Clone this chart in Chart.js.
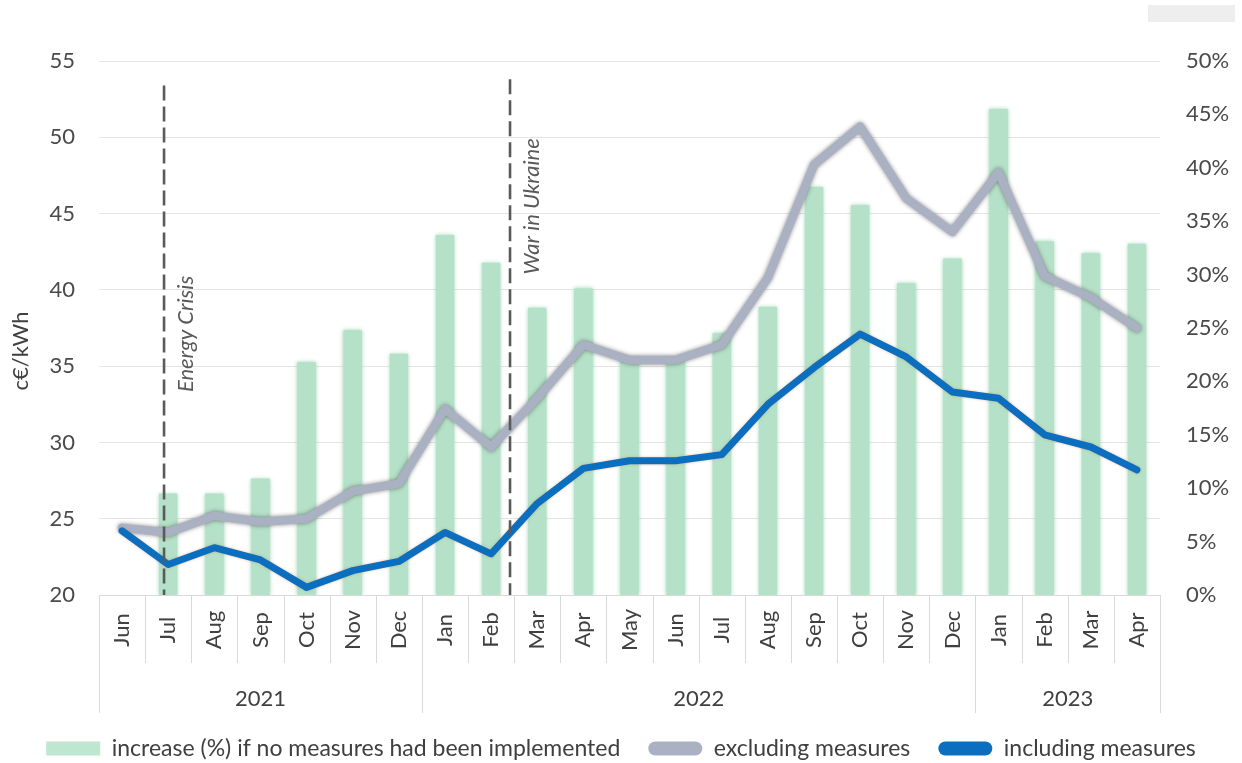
<!DOCTYPE html>
<html lang="en">
<head>
<meta charset="UTF-8">
<title>Electricity price with and without measures</title>
<script src="https://cdn.jsdelivr.net/npm/chart.js"></script>
<style>
  body { margin: 0; background: #fff; }
  .wrap { position: relative; width: 1242px; height: 763px; }
  .corner { position: absolute; left: 1148px; top: 5px; width: 87px; height: 17px; background: #eeeeee; }
</style>
</head>
<body>
<div class="wrap">
  <canvas id="chart"></canvas>
  <div class="corner"></div>
</div>
<script>
// months Jun 2021 .. Apr 2023
const months = ['Jun', 'Jul', 'Aug', 'Sep', 'Oct', 'Nov', 'Dec',
  'Jan', 'Feb', 'Mar', 'Apr', 'May', 'Jun', 'Jul', 'Aug', 'Sep', 'Oct', 'Nov', 'Dec',
  'Jan', 'Feb', 'Mar', 'Apr'];
const yearLabels = ['2021', '2022', '2023'];
const yearSpans = [7, 12, 4];

// right axis, %
const increasePct = [null, 9.5, 9.5, 10.9, 21.8, 24.8, 22.6, 33.7, 31.1, 26.9, 28.7, 22.0,
  22.0, 24.5, 27.0, 38.2, 36.5, 29.2, 31.5, 45.5, 33.1, 32.0, 32.9];
// left axis, c€/kWh
const excludingMeasures = [24.4, 24.1, 25.2, 24.8, 25.0, 26.8, 27.3, 32.2, 29.7, 32.9, 36.4, 35.4,
  35.4, 36.4, 40.8, 48.2, 50.7, 46.0, 43.8, 47.7, 40.9, 39.5, 37.5];
const includingMeasures = [24.2, 22.0, 23.1, 22.3, 20.5, 21.6, 22.2, 24.1, 22.7, 26.0, 28.3, 28.8,
  28.8, 29.2, 32.5, 34.9, 37.1, 35.6, 33.3, 32.9, 30.5, 29.7, 28.2];

const leftTicks = [20, 25, 30, 35, 40, 45, 50, 55];
const rightTicks = [0, 5, 10, 15, 20, 25, 30, 35, 40, 45, 50];

// vertical event markers (category index, top in c€/kWh, text start in c€/kWh)
const eventLabels = ['Energy Crisis', 'War in Ukraine'];
const eventAt = [0.91, 8.41];
const eventTop = [53.4, 53.8];
const eventTextFrom = [33.3, 41.0];

const FONT = 'Lato';
Chart.defaults.font.family = FONT;

const extras = {
  id: 'extras',
  beforeDatasetDraw(chart, args) {
    const ds = chart.data.datasets[args.index];
    chart.ctx.save();
    chart.ctx.shadowColor = ds.glow;
    chart.ctx.shadowBlur = ds.glowBlur;
  },
  afterDatasetDraw(chart) {
    chart.ctx.restore();
  },
  afterDatasetsDraw(chart) {
    const ctx = chart.ctx, x = chart.scales.x, y = chart.scales.y;
    eventLabels.forEach((txt, i) => {
      const px = x.getPixelForValue(eventAt[i]);
      ctx.save();
      ctx.strokeStyle = '#5a5a5a';
      ctx.lineWidth = 2.6;
      ctx.setLineDash([15, 6]);
      ctx.beginPath();
      ctx.moveTo(px, y.getPixelForValue(eventTop[i]));
      ctx.lineTo(px, chart.chartArea.bottom);
      ctx.stroke();
      ctx.translate(px + 22, y.getPixelForValue(eventTextFrom[i]));
      ctx.rotate(-Math.PI / 2);
      ctx.fillStyle = '#595959';
      ctx.font = 'italic 22px ' + FONT;
      ctx.textAlign = 'left';
      ctx.textBaseline = 'middle';
      ctx.fillText(txt, 0, 0);
      ctx.restore();
    });
  },
  afterDraw(chart) {
    const ctx = chart.ctx, x = chart.scales.x;
    const bottom = chart.chartArea.bottom;
    const starts = [0];
    yearSpans.forEach(n => starts.push(starts[starts.length - 1] + n));

    ctx.save();
    ctx.strokeStyle = '#d9d9d9';
    ctx.lineWidth = 1;
    for (let i = 0; i <= months.length; i++) {
      const px = Math.round(x.getPixelForValue(i - 0.5)) + 0.5;
      ctx.beginPath();
      ctx.moveTo(px, bottom);
      ctx.lineTo(px, starts.includes(i) ? bottom + 118 : bottom + 68);
      ctx.stroke();
    }

    ctx.fillStyle = '#404040';
    ctx.font = '22px ' + FONT;
    ctx.textAlign = 'center';
    ctx.textBaseline = 'middle';
    months.forEach((m, i) => {
      ctx.save();
      ctx.translate(x.getPixelForValue(i), bottom + 35);
      ctx.rotate(-Math.PI / 2);
      ctx.fillText(m, 0, 0);
      ctx.restore();
    });
    yearLabels.forEach((yr, i) => {
      const mid = (x.getPixelForValue(starts[i] - 0.5) + x.getPixelForValue(starts[i + 1] - 0.5)) / 2;
      ctx.fillText(yr, mid, bottom + 104);
    });

    // y axis title
    ctx.translate(21, 351);
    ctx.rotate(-Math.PI / 2);
    ctx.fillText('c€/kWh', 0, 0);
    ctx.restore();
  }
};

new Chart(document.getElementById('chart'), {
  type: 'bar',
  data: {
    labels: months,
    datasets: [
      {
        type: 'bar',
        label: 'increase (%) if no measures had been implemented',
        data: increasePct,
        yAxisID: 'y1',
        backgroundColor: '#b4e1c7',
        barPercentage: 0.4,
        categoryPercentage: 1,
        order: 3,
        glow: 'rgba(150, 210, 175, 0.9)',
        glowBlur: 4
      },
      {
        type: 'line',
        label: 'excluding measures',
        data: excludingMeasures,
        yAxisID: 'y',
        borderColor: '#a9b1c3',
        backgroundColor: '#a9b1c3',
        borderWidth: 8.5,
        pointRadius: 0,
        tension: 0,
        borderJoinStyle: 'round',
        borderCapStyle: 'round',
        order: 2,
        glow: 'rgba(60, 60, 60, 0.6)',
        glowBlur: 4
      },
      {
        type: 'line',
        label: 'including measures',
        data: includingMeasures,
        yAxisID: 'y',
        borderColor: '#0b6ebf',
        backgroundColor: '#0b6ebf',
        borderWidth: 7,
        pointRadius: 0,
        tension: 0,
        borderJoinStyle: 'round',
        borderCapStyle: 'round',
        order: 1,
        glow: 'rgba(190, 120, 70, 0.45)',
        glowBlur: 3
      }
    ]
  },
  options: {
    responsive: true,
    maintainAspectRatio: false,
    animation: false,
    layout: { padding: { top: 61, left: 0, right: 0, bottom: -7 } },
    plugins: {
      tooltip: { enabled: false },
      legend: {
        position: 'bottom',
        labels: {
          boxWidth: 54,
          boxHeight: 14,
          padding: 28,
          color: '#404040',
          font: { family: FONT, size: 23 },
          useBorderRadius: true,
          sort: (a, b) => a.datasetIndex - b.datasetIndex,
          generateLabels(chart) {
            const items = Chart.defaults.plugins.legend.labels.generateLabels(chart);
            items.forEach(it => {
              const ds = chart.data.datasets[it.datasetIndex];
              it.fillStyle = ds.type === 'bar' ? '#bfe6cf' : ds.borderColor;
              it.strokeStyle = it.fillStyle;
              it.lineWidth = 0;
              it.lineDash = [];
              it.borderRadius = ds.type === 'bar' ? 0 : 7;
            });
            return items;
          }
        }
      }
    },
    scales: {
      x: {
        offset: true,
        grid: { display: false, drawTicks: false },
        ticks: { display: false },
        border: { color: '#d9d9d9' },
        afterFit(s) { s.height = 114; }
      },
      y: {
        position: 'left',
        min: leftTicks[0],
        max: leftTicks[leftTicks.length - 1],
        afterBuildTicks(s) { s.ticks = leftTicks.map(v => ({ value: v })); },
        ticks: { padding: 24, color: '#4a4a4a', font: { size: 22 } },
        grid: { color: '#e4e4e4', drawTicks: false },
        border: { display: false },
        afterFit(s) { s.width = 99; }
      },
      y1: {
        position: 'right',
        min: rightTicks[0],
        max: rightTicks[rightTicks.length - 1],
        afterBuildTicks(s) { s.ticks = rightTicks.map(v => ({ value: v })); },
        ticks: { padding: 26, color: '#4a4a4a', font: { size: 22 }, callback: v => v + '%' },
        grid: { display: false, drawTicks: false },
        border: { display: false },
        afterFit(s) { s.width = 82; }
      }
    }
  },
  plugins: [extras]
});
</script>
</body>
</html>
